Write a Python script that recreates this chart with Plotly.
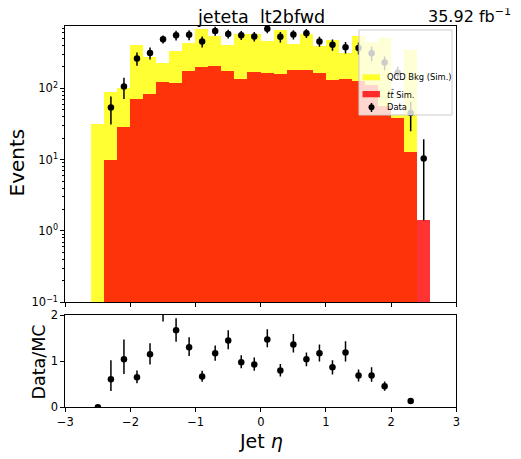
import plotly.graph_objects as go

# bin centres in jet eta (bin width 0.2)
eta = [-2.5, -2.3, -2.1, -1.9, -1.7, -1.5, -1.3, -1.1, -0.9, -0.7, -0.5, -0.3, -0.1,
       0.1, 0.3, 0.5, 0.7, 0.9, 1.1, 1.3, 1.5, 1.7, 1.9, 2.1, 2.3, 2.5]

# simulated backgrounds (events per bin)
qcd_events = [32, 80, 74, 334, 189, 105, 214, 257, 491, 339, 225, 436, 407,
              301, 501, 237, 389, 231, 341, 184, 408, 341, 449, 4, 331, 0]
ttbar_events = [0, 9.9, 28.4, 71, 83, 123, 119, 175, 199, 206, 175, 134, 168,
                164, 159, 181, 181, 164, 129, 134, 127, 110, 56, 38, 12.9, 1.42]

# observed data
data_events = [0, 54, 106, 263, 313, 487, 555, 562, 455, 638, 580, 556, 535,
               684, 528, 568, 593, 455, 409, 378, 369, 311, 230, 166, 45, 10.4]
data_err = [0, 23, 35, 55, 60, 62, 85, 89, 80, 90, 82, 81, 83,
            91, 89, 84, 86, 73, 73, 70, 70, 71, 50, 35, 20, 9]

# data / MC ratio panel
ratio = [0, 0.61, 1.04, 0.65, 1.15, 2.14, 1.67, 1.30, 0.67, 1.17, 1.45, 0.975, 0.93,
         1.47, 0.80, 1.36, 1.04, 1.17, 0.87, 1.19, 0.69, 0.69, 0.455, None, 0.137, None]
ratio_err_up = [0, 0.41, 0.43, 0.15, 0.24, 0.28, 0.26, 0.22, 0.12, 0.17, 0.22, 0.155, 0.15,
                0.22, 0.14, 0.23, 0.15, 0.19, 0.15, 0.24, 0.13, 0.18, 0.105, 0, 0.053, 0]
ratio_err_down = [0, 0.256, 0.32, 0.13, 0.22, 0.28, 0.25, 0.19, 0.114, 0.16, 0.19, 0.13, 0.14,
                  0.17, 0.13, 0.17, 0.15, 0.18, 0.16, 0.20, 0.13, 0.134, 0.095, 0, 0.05, 0]

x_ticks = [-3, -2, -1, 0, 1, 2, 3]
log_ticks = [0.1, 1, 10, 100]
log_tick_text = ["10<sup>−1</sup>", "10<sup>0</sup>", "10<sup>1</sup>", "10<sup>2</sup>"]
legend_labels = ["QCD Bkg (Sim.)", "<i>tt̄</i> Sim.", "Data"]

FONT = "DejaVu Sans"
YELLOW = "rgba(255,255,0,0.8)"
RED = "rgba(255,0,0,0.8)"

# the page body has an 8px margin, so the figure is drawn 8px smaller and
# every reference pixel position is shifted by that offset
OFF = 8
W, H = 521 - OFF, 459 - OFF

# stack top = qcd + ttbar, yellow only drawn where QCD contributes
stack_top = [q + t for q, t in zip(qcd_events, ttbar_events)]
yellow = [s if q > 0 else None for s, q in zip(stack_top, qcd_events)]

fig = go.Figure()

fig.add_trace(go.Bar(
    x=eta, y=yellow, width=0.2, name=legend_labels[0],
    marker=dict(color=YELLOW, line=dict(width=0)),
    xaxis="x", yaxis="y"
))
fig.add_trace(go.Bar(
    x=eta, y=ttbar_events, width=0.2, name=legend_labels[1],
    marker=dict(color=RED, line=dict(width=0)),
    xaxis="x", yaxis="y"
))
fig.add_trace(go.Scatter(
    x=eta, y=data_events, mode="markers", name=legend_labels[2],
    marker=dict(color="black", size=6.5),
    error_y=dict(type="data", array=data_err, color="black", thickness=1.5, width=0),
    xaxis="x", yaxis="y"
))
fig.add_trace(go.Scatter(
    x=eta, y=ratio, mode="markers",
    marker=dict(color="black", size=6.5),
    error_y=dict(type="data", array=ratio_err_up, arrayminus=ratio_err_down,
                 color="black", thickness=1.5, width=0),
    xaxis="x2", yaxis="y2"
))


def px_x(p):
    return (p - OFF) / W


def px_y(p):
    return 1 - (p - OFF) / H


axis_style = dict(
    showline=True, mirror=True, linecolor="black", linewidth=1,
    ticks="outside", ticklen=4, tickwidth=1, tickcolor="black",
    showgrid=False, zeroline=False, automargin=False,
    tickfont=dict(family=FONT, size=11.5, color="black"),
)

x_dom = [px_x(65.3), px_x(456.3)]

fig.update_layout(
    width=W, height=H,
    margin=dict(l=0, r=0, t=0, b=0, autoexpand=False),
    paper_bgcolor="white", plot_bgcolor="white",
    barmode="overlay", bargap=0,
    font=dict(family=FONT, color="black"),
    showlegend=False,
    xaxis=dict(domain=x_dom, range=[-3, 3], tickvals=x_ticks, showticklabels=False,
               anchor="y", **axis_style),
    yaxis=dict(domain=[px_y(302.3), px_y(26)], type="log", range=[-1, 2.874],
               tickvals=log_ticks, ticktext=log_tick_text,
               minor=dict(ticks="outside", ticklen=2, tickcolor="black",
                          tickvals=[v * m for v in log_ticks for m in range(2, 10)]),
               anchor="x", **axis_style),
    xaxis2=dict(domain=x_dom, range=[-3, 3], tickvals=x_ticks, anchor="y2",
                **axis_style),
    yaxis2=dict(domain=[px_y(407.3), px_y(315)], range=[0, 2], tickvals=[0, 1, 2],
                anchor="x2", **axis_style),
)

# legend, drawn by hand so it matches the matplotlib layout
fig.add_shape(type="rect", xref="paper", yref="paper",
              x0=px_x(359), x1=px_x(452), y0=px_y(115), y1=px_y(30),
              fillcolor="rgba(255,255,255,0.8)", line=dict(color="#cccccc", width=1),
              layer="above")
for color, y0, y1 in [(YELLOW, 74.3, 80.3), (RED, 91, 97.3)]:
    fig.add_shape(type="rect", xref="paper", yref="paper",
                  x0=px_x(362.5), x1=px_x(380), y0=px_y(y1), y1=px_y(y0),
                  fillcolor=color, line=dict(width=0), layer="above")
fig.add_shape(type="line", xref="paper", yref="paper",
              x0=px_x(371.5), x1=px_x(371.5), y0=px_y(112), y1=px_y(103),
              line=dict(color="black", width=1.5), layer="above")
fig.add_shape(type="circle", xref="paper", yref="paper",
              x0=px_x(368.5), x1=px_x(374.5), y0=px_y(110.3), y1=px_y(104.3),
              fillcolor="black", line=dict(width=0), layer="above")
for label, yc in zip(legend_labels, [77.3, 94.2, 107.5]):
    fig.add_annotation(x=px_x(384.5), y=px_y(yc), xref="paper", yref="paper",
                       text=label, showarrow=False, xanchor="left", yanchor="middle",
                       font=dict(family=FONT, size=8.3))


def add_text(text, x, y, size, angle=0, xanchor="center"):
    fig.add_annotation(x=px_x(x), y=px_y(y), xref="paper", yref="paper",
                       text=text, textangle=angle, showarrow=False,
                       xanchor=xanchor, yanchor="middle", borderpad=0,
                       font=dict(family=FONT, size=size))


add_text("jeteta&nbsp; lt2bfwd", 261, 17, 17.5)
add_text("35.92 fb<sup>−1</sup>", 512, 15.5, 16, xanchor="right")
add_text("Events", 17, 162.5, 20, angle=-90)
add_text("Data/MC", 38, 362.5, 17.5, angle=-90)
add_text("Jet <i>η</i>", 260.5, 441, 19)

fig.write_html("out.html")
